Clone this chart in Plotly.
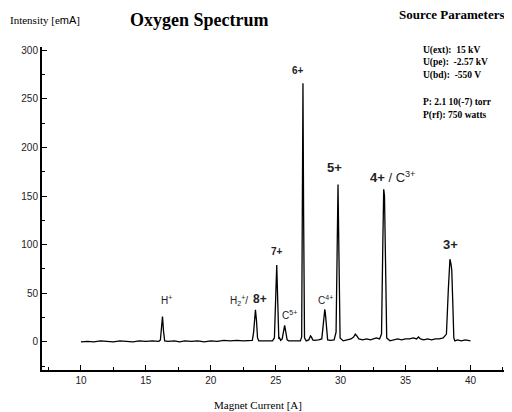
import plotly.graph_objects as go

# Magnet current [A] and intensity [emA]
current = [10.0, 10.5, 11.0, 11.5, 12.0, 12.5, 13.0, 13.5, 14.0, 14.5, 15.0, 15.5, 16.0,
           16.12, 16.2, 16.28, 16.36, 16.45, 16.7, 17.2, 17.6, 18.0, 18.5, 19.0, 19.5, 20.0,
           20.5, 21.0, 21.5, 22.0, 22.5, 23.0, 23.2,
           23.3, 23.37, 23.44, 23.52, 23.6, 23.7, 24.0, 24.4, 24.75,
           24.9, 24.98, 25.08, 25.16, 25.24, 25.3, 25.38, 25.5, 25.6, 25.69, 25.78, 25.88, 26.0,
           26.3, 26.6, 26.9, 27.0, 27.06, 27.1, 27.15, 27.22, 27.35, 27.55, 27.68, 27.75, 27.85,
           28.0, 28.3, 28.55, 28.68, 28.78, 28.82, 28.9, 29.0, 29.2, 29.5, 29.65, 29.73, 29.8,
           29.87, 29.96, 30.2, 30.5, 30.8, 31.0, 31.13, 31.25, 31.4, 31.7, 32.0, 32.3, 32.5,
           32.75, 33.0, 33.15, 33.25, 33.32, 33.38, 33.45, 33.55, 33.8, 34.1, 34.4, 34.7, 35.0,
           35.3, 35.6, 35.85, 36.0, 36.15, 36.4, 36.7, 37.0, 37.3, 37.6, 37.9, 38.15, 38.3,
           38.42, 38.5, 38.56, 38.64, 38.72, 38.8, 39.0, 39.3, 39.6, 40.0]
intensity = [0.0, 0.5, 0.0, 1.0, 0.5, 0.0, 1.0, 0.5, 0.0, 1.0, 0.5, 1.0, 0.5,
             2.0, 13.0, 26.0, 11.0, 1.0, 0.5, 1.0, 0.0, 1.0, 0.5, 1.0, 0.0, 1.0,
             0.5, 1.5, 1.0, 1.5, 1.0, 1.0, 1.5,
             10.0, 26.0, 33.0, 22.0, 4.0, 1.0, 1.0, 1.5, 1.0,
             4.0, 45.0, 79.0, 40.0, 3.0, 4.0, 1.5, 3.0, 12.0, 17.0, 10.0, 2.0, 1.0,
             1.0, 1.5, 1.0, 5.0, 150.0, 266.0, 130.0, 4.0, 1.0, 2.0, 6.0, 5.0, 2.0,
             1.5, 2.0, 3.0, 20.0, 33.5, 30.0, 12.0, 2.0, 1.5, 2.0, 10.0, 100.0, 162.0,
             90.0, 4.0, 1.0, 2.0, 3.0, 5.0, 8.0, 6.0, 3.0, 2.0, 3.0, 2.0, 3.0,
             4.0, 3.0, 8.0, 100.0, 157.0, 150.0, 60.0, 4.0, 1.0, 2.0, 3.0, 2.0, 3.0,
             3.0, 4.0, 3.0, 5.0, 3.0, 2.0, 3.0, 2.0, 3.0, 3.0, 4.0, 8.0, 55.0,
             85.0, 80.0, 74.0, 40.0, 4.0, 1.0, 2.0, 1.0, 2.0, 1.0]

x_ticks = [10, 15, 20, 25, 30, 35, 40]
y_ticks = [0, 50, 100, 150, 200, 250, 300]

peak_labels = ["H<sup>+</sup>", "H<sub>2</sub><sup>+</sup>/", "<b>8+</b>", "<b>7+</b>",
               "C<sup>5+</sup>", "<b>6+</b>", "C<sup>4+</sup>", "<b>5+</b>",
               "<b>4+</b> / C<sup>3+</sup>", "<b>3+</b>"]
peak_label_x = [16.6, 22.15, 23.8, 25.1, 26.1, 26.73, 28.8, 29.54, 34.0, 38.46]
peak_label_y = [43, 43, 44, 93, 28, 279, 43, 179, 170, 100]
peak_label_size = [10, 10, 12, 10, 10, 10, 10, 13, 13, 13]

params = ["U(ext):  15 kV", "U(pe):  -2.57 kV", "U(bd):  -550 V",
          "P: 2.1 10(-7) torr", "P(rf): 750 watts"]
params_y = [50, 62.5, 75, 102, 115]

serif = "Liberation Serif, Times New Roman, serif"
sans = "Liberation Sans, Arial, sans-serif"

# page offset of the figure inside the browser window (default body margin)
OFF = 8
W, H = 512 - OFF, 412 - OFF
PL, PR, PT, PB = 42, 512, 47, 370  # plot area in window pixels


def px(X):
    return (X - PL) / (PR - PL)


def py(Y):
    return (PB - Y) / (PB - PT)


fig = go.Figure()
fig.add_trace(go.Scatter(x=current, y=intensity, mode="lines",
                         line=dict(color="black", width=1.3), hoverinfo="skip",
                         showlegend=False))

for t, xx, yy, s in zip(peak_labels, peak_label_x, peak_label_y, peak_label_size):
    fig.add_annotation(x=xx, y=yy, xref="x", yref="y", text=t, showarrow=False,
                       font=dict(family=sans, size=s, color="#222"))

page_texts = [
    dict(text="Intensity [e<span style='font-family:Liberation Sans'>mA</span>]",
         x=8, y=20, size=11, anchor="left"),
    dict(text="<b>Oxygen Spectrum</b>", x=128, y=20, size=18, anchor="left"),
    dict(text="<b>Source Parameters</b>", x=397, y=15, size=13, anchor="left"),
    dict(text="Magnet Current [A]", x=258, y=405, size=11, anchor="center"),
]
for p in page_texts:
    fig.add_annotation(x=px(p["x"]), y=py(p["y"]), xref="paper", yref="paper",
                       text=p["text"], showarrow=False, xanchor=p["anchor"], yanchor="middle",
                       font=dict(family=serif, size=p["size"], color="black"))

for t, yy in zip(params, params_y):
    fig.add_annotation(x=px(421), y=py(yy), xref="paper", yref="paper",
                       text="<b>" + t + "</b>", showarrow=False,
                       xanchor="left", yanchor="middle", align="left",
                       font=dict(family=serif, size=9.5, color="black"))

fig.update_layout(
    width=W, height=H,
    margin=dict(l=PL - OFF, r=W - (PR - OFF), t=PT - OFF, b=H - (PB - OFF)),
    paper_bgcolor="white", plot_bgcolor="white",
    xaxis=dict(range=[7.0, 43.2], tickvals=x_ticks, ticks="inside", ticklen=5,
               tickwidth=1.3, tickcolor="black", showline=True, linecolor="black",
               linewidth=2, showgrid=False, zeroline=False,
               minor=dict(dtick=2.5, tick0=0, ticks="inside", ticklen=3, tickcolor="black"),
               tickfont=dict(family=sans, size=10, color="#222")),
    yaxis=dict(range=[-29, 303.4], tickvals=y_ticks, ticks="inside", ticklen=5,
               tickwidth=1.3, tickcolor="black", showline=True, linecolor="black",
               linewidth=2, showgrid=False, zeroline=False,
               minor=dict(dtick=25, tick0=0, ticks="inside", ticklen=3, tickcolor="black"),
               tickfont=dict(family=sans, size=10, color="#222")),
)

fig.write_html("out.html")
